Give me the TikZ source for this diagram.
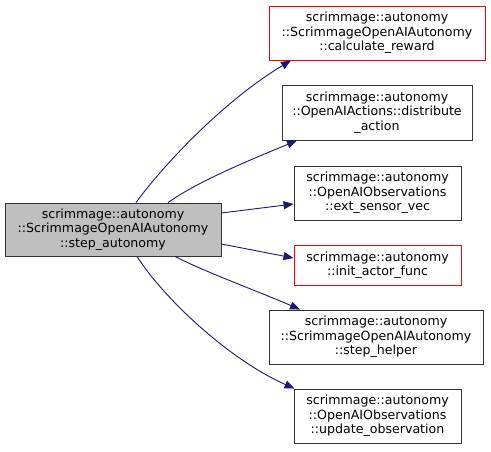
\documentclass[tikz,border=0pt]{standalone}
\usepackage{fontspec}
\setmainfont{DejaVu Sans}
\usetikzlibrary{arrows.meta}
\definecolor{edgeblue}{HTML}{191970}
\definecolor{boxgrey}{HTML}{BFBFBF}
\tikzset{
  fn/.style={draw=black!80, line width=0.9pt, align=center, inner sep=0pt,
    font=\fontsize{12.6pt}{14.5pt}\selectfont},
  undoc/.style={fn, draw=red},
  current/.style={fn, fill=boxgrey},
  call/.style={draw=edgeblue, line width=0.9pt, -{Triangle[length=10pt,width=8pt]}, edgeblue}
}
\begin{document}
\begin{tikzpicture}[x=1pt,y=-1pt]
\useasboundingbox (0,0) rectangle (491,451);
\node[current, minimum width=216pt, minimum height=53pt] (stepauto) at (113,229.5) {scrimmage::autonomy\\ ::ScrimmageOpenAIAutonomy\\ ::step\_autonomy};
\node[undoc, minimum width=216pt, minimum height=54pt] (reward) at (377,33) {scrimmage::autonomy\\ ::ScrimmageOpenAIAutonomy\\ ::calculate\_reward};
\node[fn, minimum width=190pt, minimum height=55pt] (distribute) at (377,112.5) {scrimmage::autonomy\\ ::OpenAIActions::distribute\\ \_action};
\node[fn, minimum width=167pt, minimum height=54pt] (sensorvec) at (377.5,193) {scrimmage::autonomy\\ ::OpenAIObservations\\ ::ext\_sensor\_vec};
\node[undoc, minimum width=167pt, minimum height=40pt] (initactor) at (377.5,265) {scrimmage::autonomy\\ ::init\_actor\_func};
\node[fn, minimum width=214pt, minimum height=54pt] (stephelper) at (376,337) {scrimmage::autonomy\\ ::ScrimmageOpenAIAutonomy\\ ::step\_helper};
\node[fn, minimum width=167pt, minimum height=54pt] (updateobs) at (377.5,416) {scrimmage::autonomy\\ ::OpenAIObservations\\ ::update\_observation};
% calls
\draw[call] ([xshift=23pt]stepauto.north) .. controls (165,163) and (225,100) .. ([xshift=-86pt]reward.south);
\draw[call] ([xshift=55pt]stepauto.north) .. controls (200,180) and (255,158) .. ([xshift=-80pt]distribute.south);
\draw[call] ([yshift=16.5pt]stepauto.east) -- ([yshift=-11pt]sensorvec.west);
\draw[call] ([yshift=-14.5pt]stepauto.east) -- ([yshift=7pt]initactor.west);
\draw[call] ([xshift=62pt]stepauto.south) .. controls (205,272) and (260,292) .. ([xshift=-76pt]stephelper.north);
\draw[call] ([xshift=24pt]stepauto.south) .. controls (165,300) and (230,360) .. ([xshift=-83pt]updateobs.north);
\end{tikzpicture}
\end{document}
